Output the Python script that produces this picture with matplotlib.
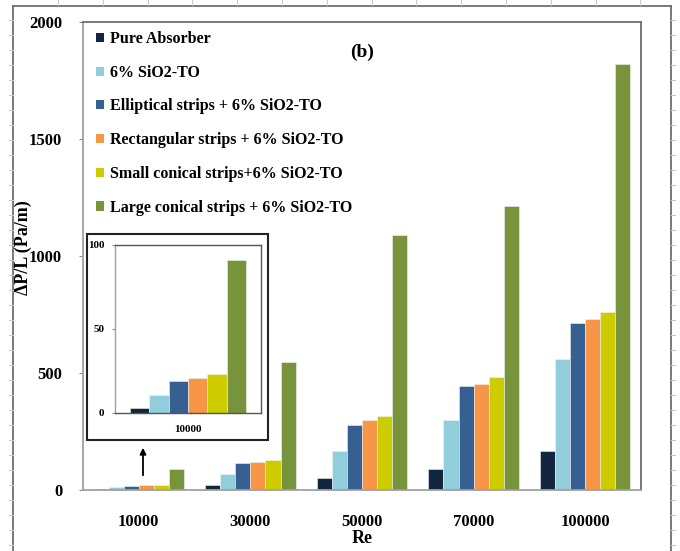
import matplotlib
matplotlib.use("Agg")
import matplotlib.pyplot as plt
import numpy as np
from matplotlib.patches import Patch, Rectangle
from matplotlib.lines import Line2D

plt.rcParams['font.family'] = ['Liberation Serif', 'DejaVu Serif']
plt.rcParams['font.weight'] = 'bold'

# Reynolds numbers (x categories)
categories = ["10000", "30000", "50000", "70000", "100000"]

# Pressure drop per unit length, Pa/m
pure_absorber = [3, 20, 50, 90, 168]
sio2_to = [11, 68, 168, 301, 561]
elliptical = [19, 114, 276, 446, 715]
rectangular = [21, 119, 301, 455, 731]
small_conical = [23, 128, 316, 484, 760]
large_conical = [91, 547, 1088, 1214, 1819]

series_labels = ["Pure Absorber", "6% SiO2-TO", "Elliptical strips + 6% SiO2-TO",
                 "Rectangular strips + 6% SiO2-TO", "Small conical strips+6% SiO2-TO",
                 "Large conical strips + 6% SiO2-TO"]
series_values = [pure_absorber, sio2_to, elliptical, rectangular, small_conical, large_conical]
colors = ["#12273F", "#92CDDC", "#376092", "#F79646", "#CCCC00", "#77933C"]

W, H = 680, 551
fig = plt.figure(figsize=(6.8, 5.51), dpi=100)

def fx(px):
    return px / W

def fy(py):
    return 1 - py / H

# outer chart frame
frame_col = "#6E6E6E"
fig.add_artist(Line2D([fx(13), fx(13)], [fy(6), 0], color=frame_col, lw=1.3))
fig.add_artist(Line2D([fx(671), fx(671)], [fy(6), 0], color=frame_col, lw=1.3))
fig.add_artist(Line2D([fx(13), fx(671)], [fy(6), fy(6)], color=frame_col, lw=1.3))
for x in np.arange(58, 671, 44.8):
    fig.add_artist(Line2D([fx(x), fx(x)], [fy(0), fy(5)], color="#C8C8C8", lw=0.8))
for y in np.arange(20, 551, 15):
    fig.add_artist(Line2D([fx(9), fx(13)], [fy(y), fy(y)], color="#C8C8C8", lw=0.8))
    fig.add_artist(Line2D([fx(671), fx(675)], [fy(y), fy(y)], color="#C8C8C8", lw=0.8))

# main axes
ax = fig.add_axes([fx(83), fy(490), fx(641) - fx(83), fy(22) - fy(490)])
n = len(series_values)
bw = 0.135
x = np.arange(len(categories))
for i, (vals, c) in enumerate(zip(series_values, colors)):
    ax.bar(x + (i - (n - 1) / 2) * bw, vals, width=bw, color=c,
           edgecolor="#F2F2F2", linewidth=0.4, zorder=2)

ax.set_xlim(-0.5, len(categories) - 0.5)
ax.set_ylim(0, 2000)
ax.set_yticks([0, 500, 1000, 1500, 2000])
ax.set_xticks(x)
ax.set_xticklabels(categories, fontsize=12, fontweight='bold')
ax.tick_params(axis='x', length=0, pad=17)
ax.tick_params(axis='y', length=3, direction='out', color="#888888", labelsize=12, pad=12)
for lab in ax.get_yticklabels():
    lab.set_fontweight('bold')
for s in ax.spines.values():
    s.set_color("#6E6E6E")
    s.set_linewidth(1.3)
ax.spines['left'].set_color("#A0A0A0")
ax.spines['bottom'].set_color("#A0A0A0")
ax.set_xlabel("Re", fontsize=13, fontweight='bold', labelpad=0)

fig.text(fx(23), fy(248), "ΔP/L (Pa/m)", rotation=90, ha='center', va='center',
         fontsize=13, fontweight='bold')
fig.text(fx(362), fy(52), "(b)", ha='center', va='center', fontsize=14, fontweight='bold')

handles = [Patch(facecolor=c, edgecolor='none') for c in colors]
leg = ax.legend(handles, series_labels, loc='upper left',
                bbox_to_anchor=(fx(96), fy(31)), bbox_transform=fig.transFigure,
                frameon=False, fontsize=11.5, handlelength=0.5, handleheight=0.5,
                handletextpad=0.35, labelspacing=1.11, borderpad=0, borderaxespad=0)
for t in leg.get_texts():
    t.set_fontweight('bold')

# inset zoom on Re = 10000
fig.add_artist(Rectangle((fx(87), fy(440)), fx(268) - fx(87), fy(234) - fy(440),
                         transform=fig.transFigure, fill=True, facecolor='white',
                         edgecolor='#222222', lw=1.5, zorder=3))
iax = fig.add_axes([fx(115), fy(413), fx(261) - fx(115), fy(245) - fy(413)], zorder=4)
ibw = 0.132
for i, (vals, c) in enumerate(zip(series_values, colors)):
    iax.bar((i - (n - 1) / 2) * ibw, vals[0], width=ibw, color=c,
            edgecolor="#F2F2F2", linewidth=0.4)
iax.set_xlim(-0.5, 0.5)
iax.set_ylim(0, 100)
iax.set_yticks([0, 50, 100])
iax.set_xticks([0])
iax.set_xticklabels([categories[0]], fontsize=8, fontweight='bold')
iax.tick_params(axis='x', length=0, pad=9)
iax.tick_params(axis='y', length=2.5, color="#888888", labelsize=8, pad=5)
for lab in iax.get_yticklabels():
    lab.set_fontweight('bold')
for s in iax.spines.values():
    s.set_color("#555555")
    s.set_linewidth(1.0)
iax.spines['left'].set_color("#A0A0A0")

# arrow pointing from the Re = 10000 group to the inset
ax.annotate("", xy=(fx(143), fy(445)), xytext=(fx(143), fy(478)),
            xycoords='figure fraction', textcoords='figure fraction',
            arrowprops=dict(arrowstyle='-|>', color='black', lw=1.3, mutation_scale=9))

fig.savefig("out.png", dpi=100)
